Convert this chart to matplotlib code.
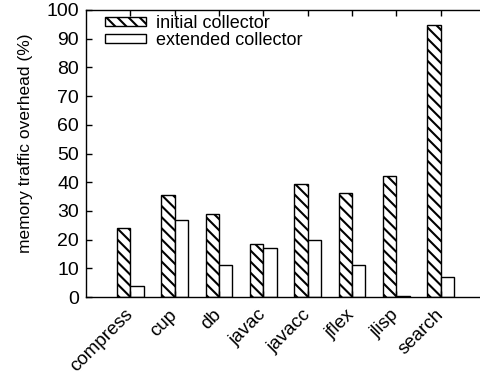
import matplotlib
matplotlib.use("Agg")
import matplotlib.pyplot as plt
import numpy as np

plt.rcParams['font.family'] = ['Liberation Sans', 'DejaVu Sans']
plt.rcParams['hatch.linewidth'] = 1.5

benchmarks = ['compress', 'cup', 'db', 'javac', 'javacc', 'jflex', 'jlisp', 'search']
initial = [24.1, 35.7, 29.0, 18.6, 39.5, 36.4, 42.2, 94.8]
extended = [3.8, 27.0, 11.2, 16.9, 19.9, 11.3, 0.5, 7.0]

fig = plt.figure(figsize=(4.81, 3.81), dpi=100)
ax = fig.add_axes([86 / 481, 84 / 381, (485 - 86) / 481, 287 / 381])

x = np.arange(len(benchmarks))
w = 0.3
ax.bar(x - w / 2, initial, w, color='white', edgecolor='black', linewidth=1,
       hatch='\\' * 3, label='initial collector')
ax.bar(x + w / 2, extended, w, color='white', edgecolor='black', linewidth=1,
       label='extended collector')

ax.set_xlim(-1, 8)
ax.set_ylim(0, 100)
ax.set_yticks(range(0, 101, 10))
ax.set_xticks(x)
ax.set_xticklabels(benchmarks, rotation=45, ha='right', va='center',
                   rotation_mode='anchor')
ax.tick_params(direction='in', length=4, labelsize=14, top=True, right=False, width=1)
ax.tick_params(axis='y', pad=5)
ax.tick_params(axis='x', pad=11, labelsize=13.5)
ax.set_ylabel('memory traffic overhead (%)', fontsize=12.5)
ax.yaxis.set_label_coords(-0.133, 0.537)
for s in ax.spines.values():
    s.set_linewidth(1)

ax.legend(loc='upper left', frameon=False, fontsize=13, handlelength=2.3,
          handleheight=0.45, handletextpad=0.55, labelspacing=0.0,
          borderaxespad=0.0, bbox_to_anchor=(0.029, 1.008))

fig.savefig('out.png', dpi=100)
